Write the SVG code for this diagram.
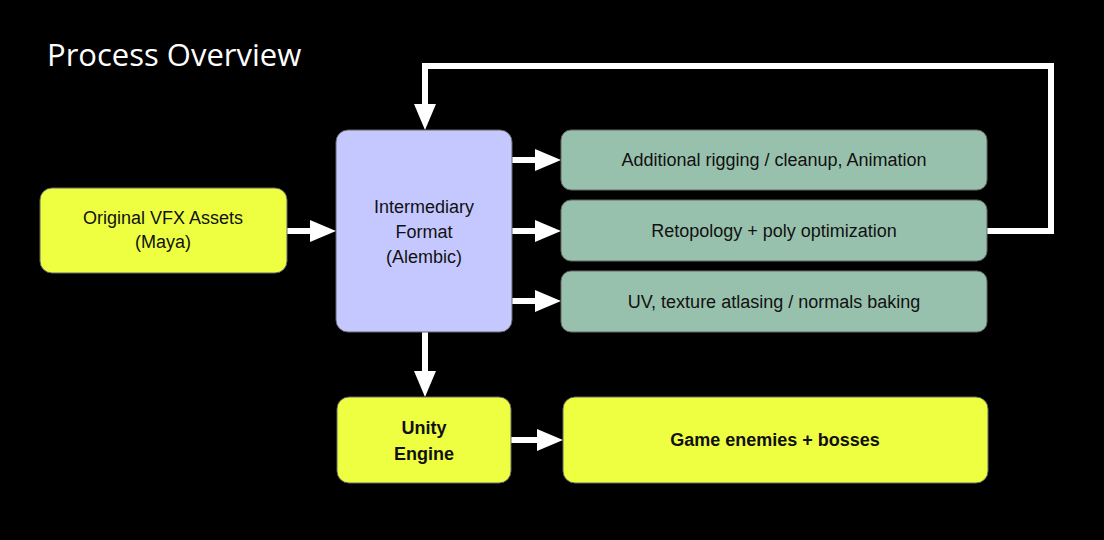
<svg xmlns="http://www.w3.org/2000/svg" width="1104" height="540" viewBox="0 0 1104 540">
<style>
.t{font-family:"Liberation Sans",Arial,sans-serif;font-size:18px;fill:#111;text-anchor:middle}
.b{font-weight:bold}
.y{fill:#eeff41;stroke:#666;stroke-width:1}
.g{fill:#98c1ad;stroke:#666;stroke-width:1}
.line{stroke:#fff;stroke-width:6;fill:none}
.head{fill:#fff}
</style>
<rect width="1104" height="540" fill="#000"/>
<text x="47" y="66" font-family="'Open Sans',sans-serif" font-size="31" fill="#fff">Process Overview</text>
<g id="connectors">
<line class="line" x1="287" y1="231" x2="312" y2="231"/><polygon class="head" points="310,220 336,231 310,242"/>
<line class="line" x1="512" y1="160" x2="537" y2="160"/><polygon class="head" points="535,149 561,160 535,171"/>
<line class="line" x1="512" y1="231" x2="537" y2="231"/><polygon class="head" points="535,220 561,231 535,242"/>
<line class="line" x1="512" y1="301" x2="537" y2="301"/><polygon class="head" points="535,290 561,301 535,312"/>
<line class="line" x1="425" y1="332" x2="425" y2="373"/><polygon class="head" points="414,371 425,397 436,371"/>
<line class="line" x1="511" y1="440" x2="539" y2="440"/><polygon class="head" points="537,429 563,440 537,451"/>
<polyline class="line" points="987,231 1051,231 1051,66 425,66 425,106"/><polygon class="head" points="414,104 425,130 436,104"/>
</g>
<g id="original"><rect class="y" x="40" y="188" width="247" height="85" rx="12"/><text class="t" x="163" y="224">Original VFX Assets</text><text class="t" x="163" y="248">(Maya)</text></g>
<g id="intermediary"><rect x="336" y="130" width="176" height="202" rx="12" fill="#c5c8ff" stroke="#666"/><text class="t" x="424" y="213">Intermediary</text><text class="t" x="424" y="238">Format</text><text class="t" x="424" y="263">(Alembic)</text></g>
<g id="rigging"><rect class="g" x="561" y="130" width="426" height="60" rx="10"/><text class="t" x="774" y="166">Additional rigging / cleanup, Animation</text></g>
<g id="retopo"><rect class="g" x="561" y="200" width="426" height="61" rx="10"/><text class="t" x="774" y="237">Retopology + poly optimization</text></g>
<g id="uv"><rect class="g" x="561" y="271" width="426" height="61" rx="10"/><text class="t" x="774" y="308">UV, texture atlasing / normals baking</text></g>
<g id="unity"><rect class="y" x="337" y="397" width="174" height="86" rx="12"/><text class="t b" x="424" y="434">Unity</text><text class="t b" x="424" y="460">Engine</text></g>
<g id="game"><rect class="y" x="563" y="397" width="425" height="86" rx="12"/><text class="t b" x="775" y="446">Game enemies + bosses</text></g>
</svg>
